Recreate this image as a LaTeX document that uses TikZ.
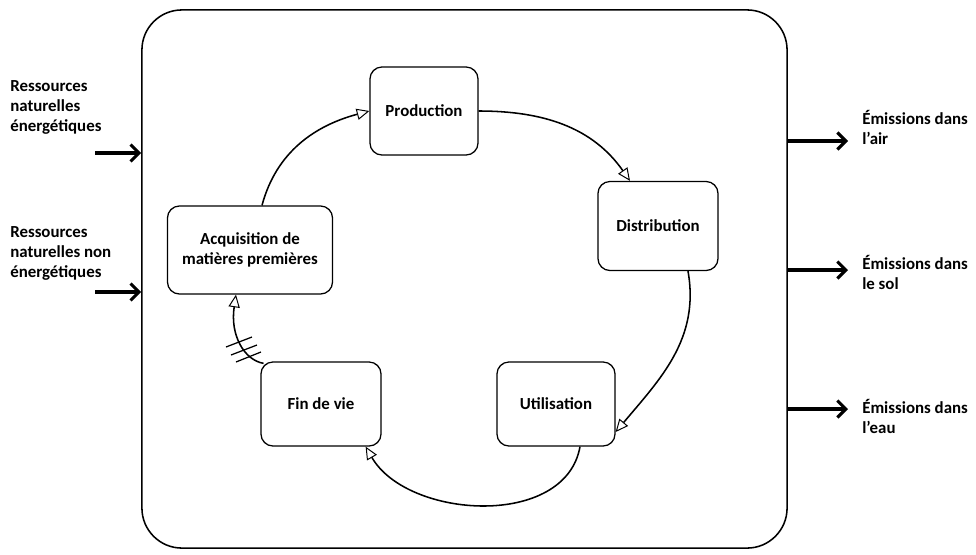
\documentclass[tikz,border=0pt]{standalone}
\usepackage{fontspec}
\setmainfont{Carlito}
\usetikzlibrary{arrows.meta}

\begin{document}
\begin{tikzpicture}[x=0.025cm,y=-0.025cm,
  etape/.style={draw,line width=0.9pt,rounded corners=0.3cm,align=center,
    font=\bfseries\fontsize{12}{14.5}\selectfont,fill=white},
  cycle/.style={line width=1.1pt,-{Triangle[open,length=9pt,width=8pt,line width=0.7pt,fill=white]}},
  flux/.style={line width=2.2pt,-{Straight Barb[length=6pt,width=12pt]}},
  etiq/.style={align=left,font=\bfseries\fontsize{12}{14.2}\selectfont,inner sep=0pt,anchor=north west}]
\useasboundingbox (0,0) rectangle (976,554);

% cadre du systeme
\node [draw,line width=1.1pt,rounded corners=1cm,minimum width=16.125cm,minimum height=13.45cm] (cadre) at (464.5,279) {};

% etapes du cycle de vie
\node [etape,minimum width=2.7cm,minimum height=2.2cm] (prod) at (424,111) {Production};
\node [etape,minimum width=3cm,minimum height=2.225cm] (distr) at (658,226) {Distribution};
\node [etape,minimum width=2.95cm,minimum height=2.1cm] (util) at (556,404) {Utilisation};
\node [etape,minimum width=3cm,minimum height=2.1cm] (fin) at (321,404) {Fin de vie};
\node [etape,minimum width=4.125cm,minimum height=2.2cm] (acq) at (250,250) {Acquisition de\\matières premières};

\draw [cycle] (prod.east) to[out=0,in=125] ([xshift=-0.7cm]distr.north);
\draw [cycle] ([xshift=0.75cm]distr.south) to[out=-80,in=50] ([yshift=-0.7cm]util.east);
\draw [cycle] ([xshift=0.6cm]util.south) to[out=-100,in=-60] ([xshift=-0.4cm]fin.south east);
\draw [cycle] ([shift={(0.08cm,-0.05cm)}]fin.north west) .. controls (244,360) and (230,335) .. ([xshift=-0.35cm]acq.south);
\draw [cycle] ([xshift=0.3cm]acq.north) to[out=75,in=195] (prod.west);
% barres sur le retour fin de vie
\draw [line width=0.9pt] (226,347) -- (252,337);
\draw [line width=0.9pt] (231,355) -- (257,345);
\draw [line width=0.9pt] (236,362) -- (261,352);

% entrees
\node [etiq] (resEn) at (10,80) {Ressources\\naturelles\\énergétiques};
\node [etiq] (resNon) at (10,226) {Ressources\\naturelles non\\énergétiques};
\coordinate (e1) at (95,153);
\coordinate (e2) at (95,292);
\draw [flux] (e1) -- (e1 -| cadre.west);
\draw [flux] (e2) -- (e2 -| cadre.west);

% sorties
\node [etiq] (air) at (862,110) {Émissions dans\\l’air};
\node [etiq] (sol) at (862,255) {Émissions dans\\le sol};
\node [etiq] (eau) at (862,399) {Émissions dans\\l’eau};
\coordinate (s1) at (848,141);
\coordinate (s2) at (848,270);
\coordinate (s3) at (848,409);
\draw [flux] (s1 -| cadre.east) -- (s1);
\draw [flux] (s2 -| cadre.east) -- (s2);
\draw [flux] (s3 -| cadre.east) -- (s3);
\end{tikzpicture}
\end{document}
